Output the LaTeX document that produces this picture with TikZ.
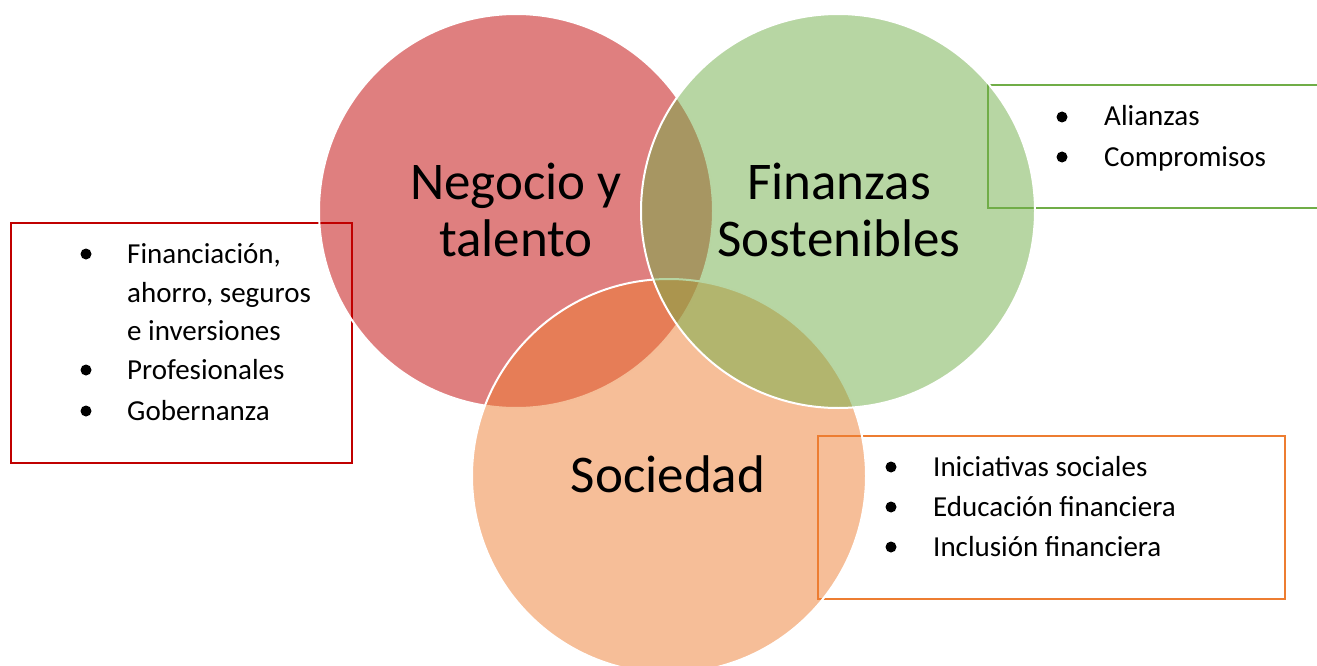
\documentclass[tikz,border=0pt]{standalone}
\usepackage{fontspec}
\setmainfont{Carlito}
\definecolor{cred}{HTML}{C00000}
\definecolor{cgreen}{HTML}{70AD47}
\definecolor{corange}{HTML}{ED7D31}
\begin{document}
\begin{tikzpicture}[x=1pt,y=-1pt,
 venn/.style={circle, minimum size=394pt, inner sep=0pt, draw=white, line width=2pt, fill opacity=0.5},
 box/.style={draw, line width=2pt, inner sep=0pt, anchor=north west},
 big/.style={font=\fontsize{53}{58}\selectfont, anchor=base, inner sep=0pt},
 item/.style={font=\fontsize{29}{35}\selectfont, anchor=base west, inner sep=0pt},
 dot/.style={circle, fill=black, minimum size=11pt, inner sep=0pt}]
\useasboundingbox (0,0) rectangle (1317,666);
% boxes (behind the circles)
\node[box, draw=cred, minimum width=341pt, minimum height=240pt] (rbox) at (10,222) {};
\node[box, draw=cgreen, minimum width=345pt, minimum height=123pt] (gbox) at (987,84) {};
\node[box, draw=corange, minimum width=467pt, minimum height=163pt] (obox) at (817,435) {};
% circles
\node[venn, fill=cred] (negocio) at (516,211) {};
\node[venn, fill=corange] (sociedad) at (669,476) {};
\node[venn, fill=cgreen] (finanzas) at (838,211) {};
% circle labels
\node[big] (n1) at (516,199) {Negocio y};
\node[big] (n2) at (516,256) {talento};
\node[big] (f1) at (839,199) {Finanzas};
\node[big] (f2) at (839,256) {Sostenibles};
\node[big] (s1) at (668,492) {Sociedad};
% red box items
\node[dot] (rd1) at (86,254) {};
\node[dot] (rd2) at (86,370) {};
\node[dot] (rd3) at (86,411) {};
\node[item] (rt1) at (127,263) {Financiación,};
\node[item] (rt2) at (127,302) {ahorro, seguros};
\node[item] (rt3) at (127,340) {e inversiones};
\node[item] (rt4) at (127,379) {Profesionales};
\node[item] (rt5) at (127,420) {Gobernanza};
% green box items
\node[dot] (gd1) at (1062,117) {};
\node[dot] (gd2) at (1062,157) {};
\node[item] (gt1) at (1104,126) {Alianzas};
\node[item] (gt2) at (1104,166) {Compromisos};
% orange box items
\node[dot] (od1) at (891,467) {};
\node[dot] (od2) at (891,507) {};
\node[dot] (od3) at (891,547) {};
\node[item] (ot1) at (933,476) {Iniciativas sociales};
\node[item] (ot2) at (933,516) {Educación financiera};
\node[item] (ot3) at (933,556) {Inclusión financiera};
\end{tikzpicture}
\end{document}
